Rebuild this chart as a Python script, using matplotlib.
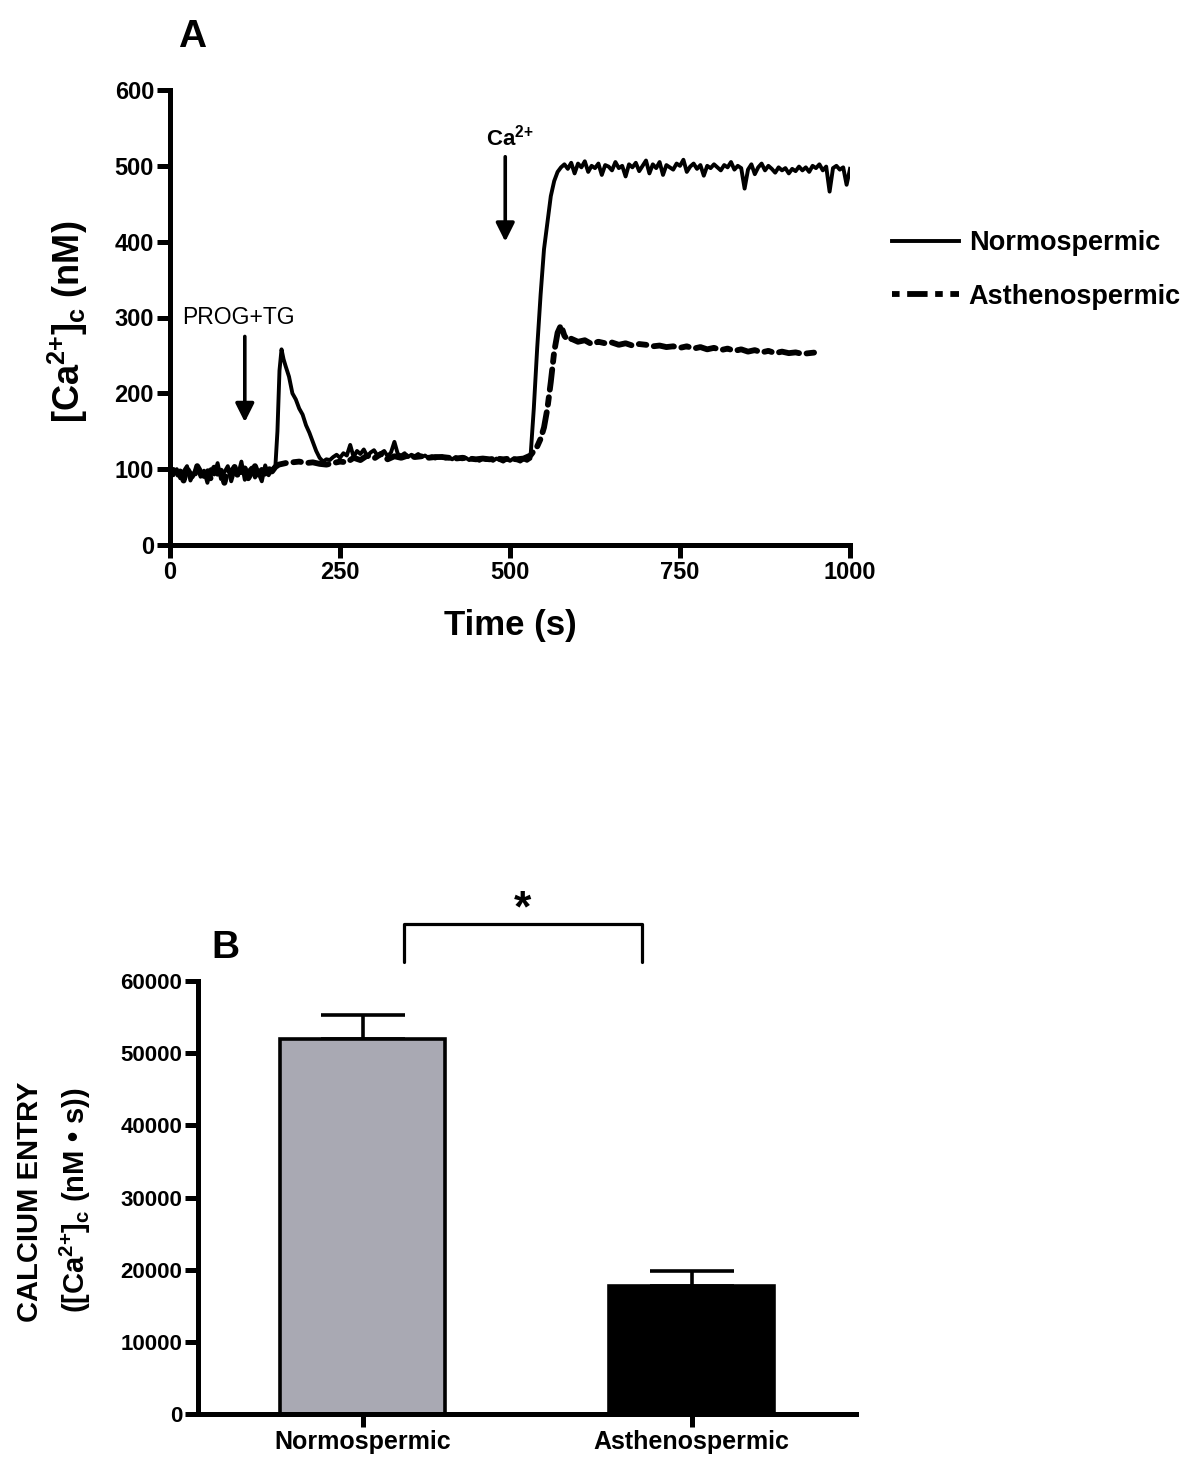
import matplotlib
matplotlib.use("Agg")
import matplotlib.pyplot as plt
from matplotlib.lines import Line2D

plt.rcParams['font.family'] = ['Liberation Sans', 'DejaVu Sans']
plt.rcParams['font.weight'] = 'bold'
plt.rcParams['mathtext.fontset'] = 'custom'
plt.rcParams['mathtext.rm'] = 'Liberation Sans:bold'
plt.rcParams['mathtext.bf'] = 'Liberation Sans:bold'
plt.rcParams['mathtext.it'] = 'Liberation Sans:bold'
plt.rcParams['mathtext.default'] = 'bf'

# ---------------- Panel A data ----------------
normo_t = [0, 5, 10, 15, 20, 25, 30, 35, 40, 45, 50, 55, 60, 65, 70, 75, 80, 85, 90, 95,
           100, 105, 110, 115, 120, 125, 130, 135, 140, 145, 150, 155, 158, 161, 164, 167,
           170, 175, 180, 185, 190, 195, 200, 205, 210, 215, 220, 225, 230, 235, 240, 245,
           250, 255, 260, 265, 270, 275, 280, 285, 290, 295, 300, 305, 310, 315, 320, 325,
           330, 335, 340, 345, 350, 355, 360, 365, 370, 375, 380, 385, 390, 395, 400, 405,
           410, 415, 420, 425, 430, 435, 440, 445, 450, 455, 460, 465, 470, 475, 480, 485,
           490, 495, 500, 505, 510, 515, 520, 525, 530, 535, 540, 545, 550, 555, 560, 565,
           570, 575, 580, 585, 590, 595, 600, 605, 610, 615, 620, 625, 630, 635, 640, 645,
           650, 655, 660, 665, 670, 675, 680, 685, 690, 695, 700, 705, 710, 715, 720, 725,
           730, 735, 740, 745, 750, 755, 760, 765, 770, 775, 780, 785, 790, 795, 800, 805,
           810, 815, 820, 825, 830, 835, 840, 845, 850, 855, 860, 865, 870, 875, 880, 885,
           890, 895, 900, 905, 910, 915, 920, 925, 930, 935, 940, 945, 950, 955, 960, 965,
           970, 975, 980, 985, 990, 995, 1000]
normo_ca = [96, 92, 100, 88, 97, 104, 85, 95, 102, 90, 98, 82, 100, 93, 108, 87, 96, 104, 84, 99,
            92, 110, 86, 97, 102, 89, 95, 84, 105, 92, 100, 104, 150, 230, 258, 245,
            236, 222, 200, 192, 180, 172, 158, 148, 136, 124, 115, 110, 113, 112, 116, 119,
            115, 121, 118, 132, 116, 124, 120, 126, 117, 122, 125, 118, 121, 124, 117, 122,
            136, 120, 118, 121, 116, 119, 117, 120, 116, 118, 115, 117, 114, 116, 117, 114,
            115, 113, 116, 114, 113, 115, 112, 114, 113, 111, 114, 112, 113, 111, 114, 112,
            110, 113, 111, 114, 112, 110, 113, 111, 114, 180, 260, 330, 390, 425, 460, 480,
            492, 498, 502, 496, 504, 490, 503, 498, 506, 492, 500, 497, 503, 488, 501, 499,
            494, 505, 497, 500, 486, 502, 498, 504, 493, 500, 507, 490, 502, 497, 505, 488,
            501, 498, 495, 503, 500, 508, 492, 499, 503, 496, 501, 487, 500, 497, 502, 498,
            494, 501, 498, 505, 495, 500, 497, 470, 495, 502, 489, 498, 503, 494, 500, 496,
            491, 498, 494, 497, 490, 496, 493, 499, 494, 498, 492, 500, 497, 502, 494, 499,
            466, 497, 500, 495, 498, 475, 496]

astheno_t = [0, 5, 10, 15, 20, 25, 30, 35, 40, 45, 50, 55, 60, 65, 70, 75, 80, 85, 90, 95,
             100, 105, 110, 115, 120, 125, 130, 135, 140, 145, 150, 155, 160, 170, 180, 190,
             200, 210, 220, 230, 240, 250, 260, 270, 280, 290, 300, 310, 320, 330, 340, 350,
             360, 370, 380, 390, 400, 410, 420, 430, 440, 450, 460, 470, 480, 490, 500, 510,
             520, 530, 540, 545, 550, 555, 560, 565, 570, 575, 580, 585, 590, 600, 610, 620,
             630, 640, 650, 660, 670, 680, 690, 700, 710, 720, 730, 740, 750, 760, 770, 780,
             790, 800, 810, 820, 830, 840, 850, 860, 870, 880, 890, 900, 910, 920, 930, 940, 950]
astheno_ca = [94, 99, 90, 97, 85, 101, 93, 88, 104, 96, 91, 99, 87, 102, 94, 98, 82, 100, 95, 103,
              90, 97, 101, 88, 96, 104, 92, 99, 94, 101, 97, 103, 106, 108, 109, 110,
              108, 109, 107, 106, 108, 110, 109, 115, 112, 118, 114, 120, 113, 117, 115, 118,
              116, 117, 115, 116, 116, 115, 114, 115, 114, 113, 114, 113, 114, 113, 114, 113,
              114, 118, 130, 140, 155, 180, 215, 255, 280, 290, 276, 270, 272, 268, 270, 265,
              268, 266, 267, 264, 266, 263, 265, 264, 262, 263, 261, 262, 260, 262, 259, 261,
              258, 260, 257, 259, 256, 258, 255, 257, 254, 256, 253, 255, 253, 254, 252, 253, 254]

# ---------------- Panel B data ----------------
groups = ['Normospermic', 'Asthenospermic']
entry_mean = [52000, 17800]
entry_err = [3300, 2000]
bar_colors = ['#a9a9b3', '#000000']

fig = plt.figure(figsize=(12, 14.72), dpi=100)

SPW = 3.6
TL = 9.5
DASH = (0, (1.3, 1.3, 3.5, 1.3))
# ---------- Panel A ----------
axA = fig.add_axes([170/1200, 1-545/1472, 680/1200, 455/1472])
axA.plot(normo_t, normo_ca, color='black', lw=2.8, solid_joinstyle='round')
axA.plot(astheno_t, astheno_ca, color='black', lw=4.2, linestyle=DASH,
         dash_capstyle='round')
axA.set_xlim(0, 1000)
axA.set_ylim(0, 600)
axA.set_xticks([0, 250, 500, 750, 1000])
axA.set_yticks([0, 100, 200, 300, 400, 500, 600])
for s in ['top', 'right']:
    axA.spines[s].set_visible(False)
for s in ['left', 'bottom']:
    axA.spines[s].set_linewidth(SPW)
axA.tick_params(width=SPW, length=TL, labelsize=17, pad=2)
for lab in axA.get_xticklabels() + axA.get_yticklabels():
    lab.set_fontweight('bold')
axA.set_xlabel('Time (s)', fontsize=25, fontweight='bold', labelpad=18)
fig.text(68/1200, 1-322/1472, '[Ca$^{2{+}}$]$_c$ (nM)', rotation=90, fontsize=26,
         fontweight='bold', ha='center', va='center')

axA.annotate('', xy=(110, 162), xytext=(110, 275),
             arrowprops=dict(arrowstyle='-|>', lw=2.6, color='black', mutation_scale=28,
                             shrinkA=0, shrinkB=0))
axA.text(100, 300, 'PROG+TG', fontsize=16.5, fontweight='normal', ha='center', va='center')
axA.annotate('', xy=(493, 400), xytext=(493, 512),
             arrowprops=dict(arrowstyle='-|>', lw=2.6, color='black', mutation_scale=28,
                             shrinkA=0, shrinkB=0))
axA.text(500, 537, 'Ca$^{2{+}}$', fontsize=16, fontweight='bold', ha='center', va='center')

fig.text(192/1200, 1-37/1472, 'A', fontsize=28, fontweight='bold', ha='center', va='center')

handles = [Line2D([], [], color='black', lw=2.8),
           Line2D([], [], color='black', lw=4.2, linestyle=DASH)]
fig.legend(handles, groups, loc='center left',
           bbox_to_anchor=(878/1200, 1-270/1472), frameon=False,
           handlelength=2.5, handletextpad=0.35, labelspacing=1.0, borderpad=0,
           prop={'weight': 'bold', 'size': 19.5})

# ---------- Panel B ----------
axB = fig.add_axes([198/1200, 1-1414/1472, 658/1200, 433/1472])
xpos = [0, 1]
axB.bar(xpos, entry_mean, width=0.5, color=bar_colors, edgecolor='black', linewidth=2.6,
        zorder=2)
axB.errorbar(xpos, entry_mean, yerr=[[0, 0], entry_err], fmt='none', ecolor='black',
             elinewidth=2.6, capsize=30, capthick=2.6, zorder=1)
axB.set_xlim(-0.5, 1.5)
axB.set_ylim(0, 60000)
axB.set_xticks(xpos)
axB.set_xticklabels(groups, fontsize=18, fontweight='bold')
axB.set_yticks([0, 10000, 20000, 30000, 40000, 50000, 60000])
for s in ['top', 'right']:
    axB.spines[s].set_visible(False)
for s in ['left', 'bottom']:
    axB.spines[s].set_linewidth(SPW)
axB.tick_params(width=SPW, length=TL, pad=2)
axB.tick_params(axis='y', labelsize=16)
for lab in axB.get_yticklabels():
    lab.set_fontweight('bold')

# significance bracket
axB.plot([0.125, 0.125, 0.85, 0.85], [62600, 67900, 67900, 62600], color='black', lw=2.3,
         clip_on=False, solid_capstyle='round')
axB.text(0.485, 69900, '*', fontsize=32, fontweight='bold', ha='center', va='center')

fig.text(225/1200, 1-948/1472, 'B', fontsize=28, fontweight='bold', ha='center', va='center')
fig.text(30/1200, 1-1202/1472, 'CALCIUM ENTRY', rotation=90, fontsize=21, fontweight='bold',
         ha='center', va='center')
fig.text(75/1200, 1-1200/1472, '([Ca$^{2{+}}$]$_c$ (nM \u2022 s))', rotation=90, fontsize=21,
         fontweight='bold', ha='center', va='center')

fig.savefig('out.png', dpi=100, facecolor='white')
